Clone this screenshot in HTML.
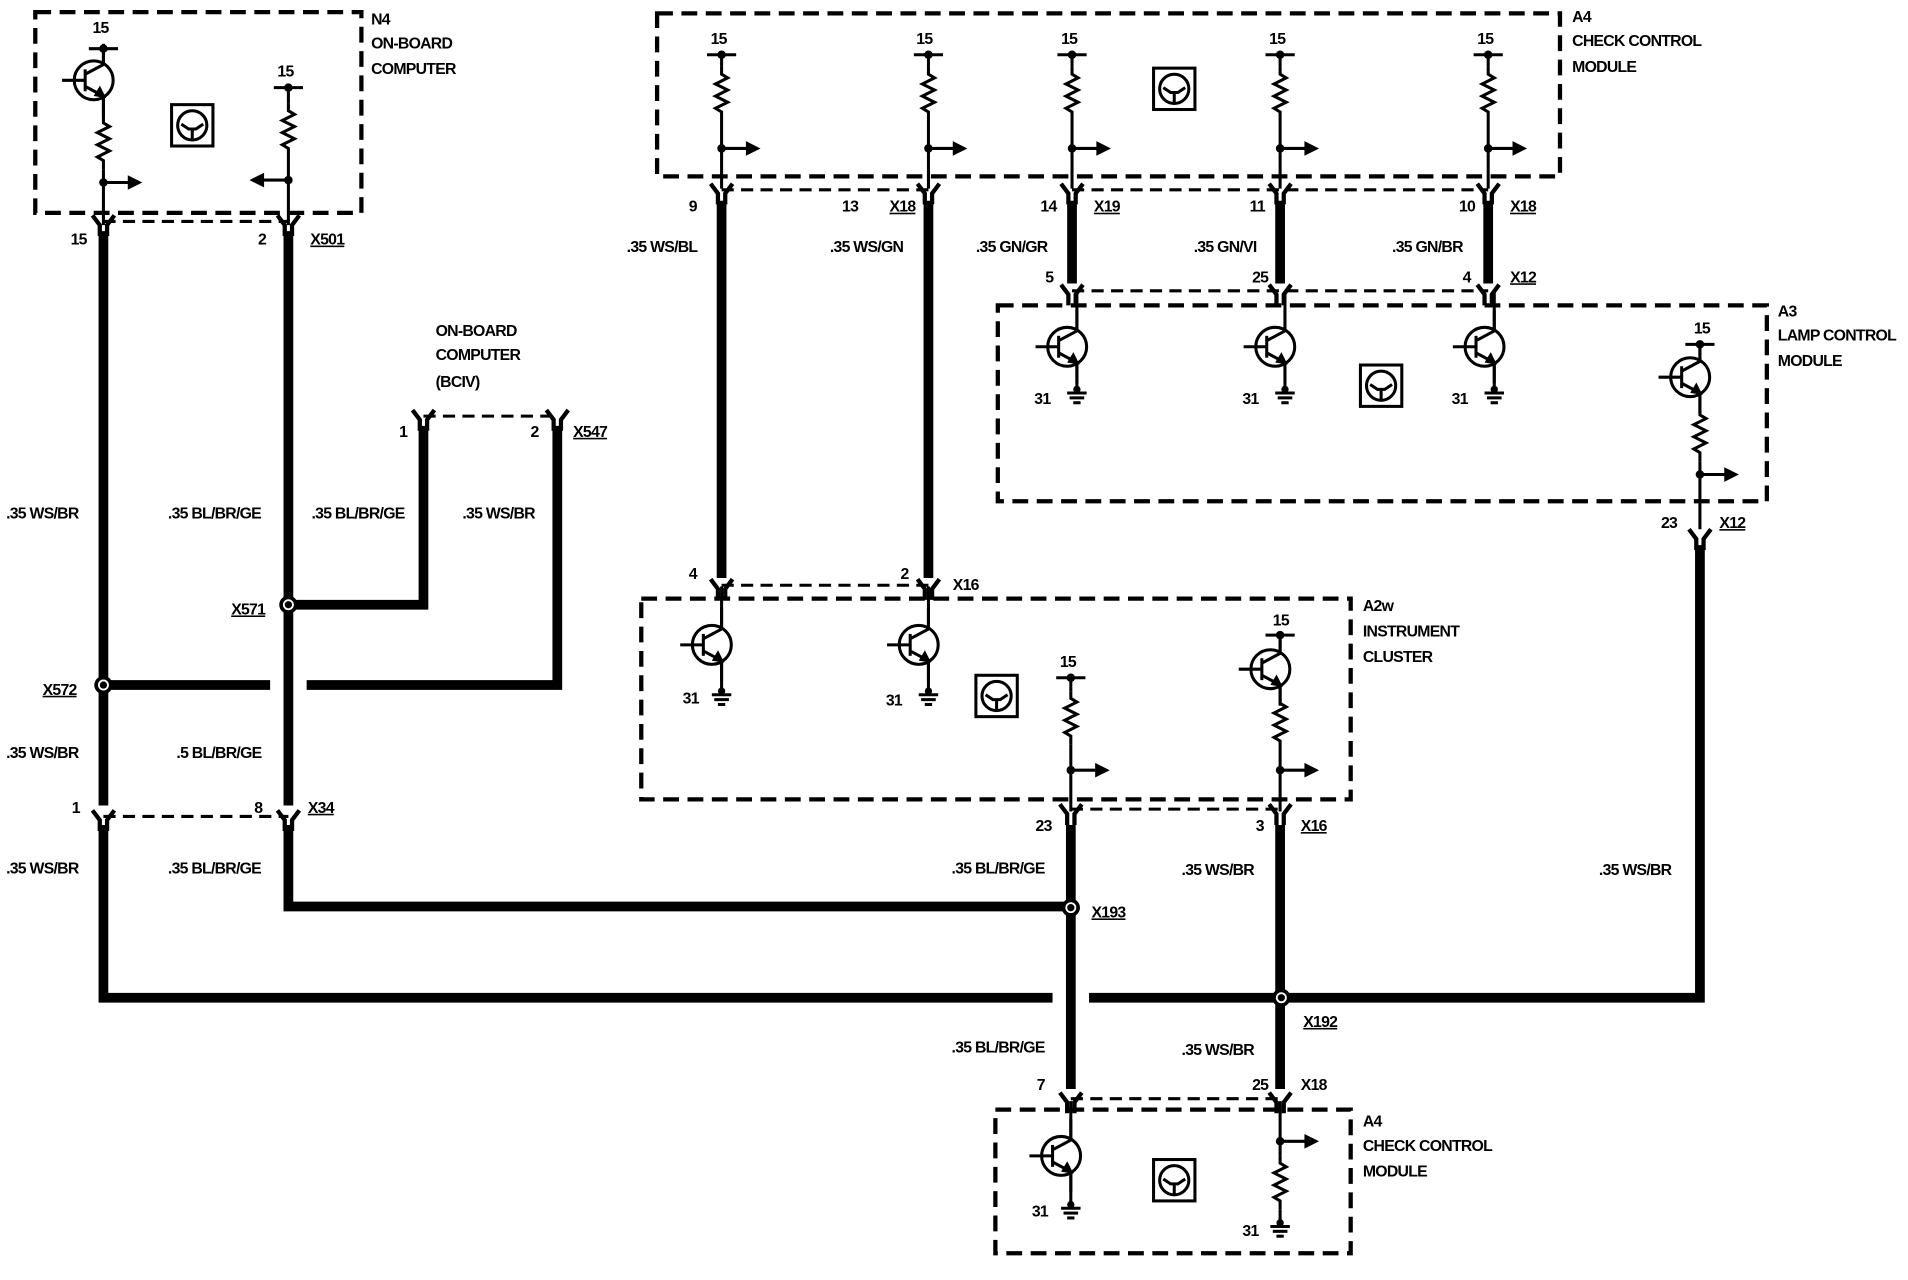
<!DOCTYPE html>
<html><head><meta charset="utf-8"><style>
html,body{margin:0;padding:0;background:#fff;}
svg{display:block;}
text{font-family:"Liberation Sans",Arial,sans-serif;font-weight:bold;font-size:13px;fill:#000;letter-spacing:-0.6px;}
</style></head><body>
<svg width="1908" height="1280" viewBox="0 0 1568 1052" preserveAspectRatio="none" xmlns="http://www.w3.org/2000/svg">
<defs>
<g id="tr" fill="none" stroke="#000" stroke-width="2.5">
<circle cx="-8" cy="0" r="16"/>
<line x1="-34" y1="0" x2="-15" y2="0"/>
<line x1="-15" y1="-9" x2="-15" y2="9"/>
<line x1="-15" y1="-5" x2="0" y2="-13"/>
<line x1="-15" y1="5" x2="0" y2="13"/>
<line x1="0" y1="-13" x2="0" y2="-30"/>
<line x1="0" y1="13" x2="0" y2="30"/>
<path d="M-6,12 L0,13 L-3,7 Z" fill="#000"/>
</g>
<polyline id="res" fill="none" stroke="#000" stroke-width="2.5" points="0,0 0,6 5,9 -5,14 5,19 -5,24 5,29 -5,34 0,37 0,44"/>
<g id="arr"><circle r="3.5" fill="#000"/><line x1="0" y1="0" x2="22" y2="0" stroke="#000" stroke-width="2.5"/><path d="M20,-6 L32,0 L20,6 Z" fill="#000"/></g>
<g id="arl"><circle r="3.5" fill="#000"/><line x1="0" y1="0" x2="-22" y2="0" stroke="#000" stroke-width="2.5"/><path d="M-20,-6 L-32,0 L-20,6 Z" fill="#000"/></g>
<g id="top"><circle r="3.5" fill="#000"/><line x1="-12" y1="0" x2="12" y2="0" stroke="#000" stroke-width="2.5"/></g>
<g id="gnd" stroke="#000" stroke-width="2.5"><circle cx="0" cy="-2" r="3" fill="#000" stroke="none"/><line x1="-8" y1="1" x2="8" y2="1"/><line x1="-6" y1="5" x2="6" y2="5"/><line x1="-3" y1="9" x2="3" y2="9"/></g>
<g id="ico" fill="none" stroke="#000" stroke-width="2.5"><rect x="-17" y="-17" width="34" height="34"/><circle r="12"/><path d="M-9,-1 L-3,3 L3,3 L9,-1 M0,3 L0,11"/></g>
<path id="fork" d="M-9,-9 L-3,-1 L-3,8 M9,-9 L3,-1 L3,8" fill="none" stroke="#000" stroke-width="3.5"/>
</defs>

<g fill="none" stroke="#000" stroke-width="3.5" stroke-dasharray="13,7">
<rect x="29" y="10" width="268" height="165"/>
<rect x="540" y="11" width="742" height="134"/>
<rect x="820" y="251" width="632" height="161"/>
<rect x="527" y="492" width="583" height="165"/>
<rect x="818" y="912" width="292" height="118"/>
</g>
<g fill="none" stroke="#000" stroke-width="2.5" stroke-dasharray="10,6">
<line x1="85" y1="182" x2="237" y2="182"/>
<line x1="348" y1="342" x2="458" y2="342"/>
<line x1="593" y1="156" x2="763" y2="156"/>
<line x1="881" y1="156" x2="1223" y2="156"/>
<line x1="881" y1="239" x2="1223" y2="239"/>
<line x1="593" y1="481" x2="763" y2="481"/>
<line x1="880" y1="665" x2="1052" y2="665"/>
<line x1="85" y1="671" x2="237" y2="671"/>
<line x1="880" y1="903" x2="1052" y2="903"/>
</g>

<g stroke="#000" stroke-width="2.5" fill="none">
<line x1="85" y1="40" x2="85" y2="185"/>
<line x1="237" y1="72" x2="237" y2="185"/>
<line x1="593" y1="45" x2="593" y2="155"/>
<line x1="763" y1="45" x2="763" y2="155"/>
<line x1="881" y1="45" x2="881" y2="155"/>
<line x1="1052" y1="45" x2="1052" y2="155"/>
<line x1="1223" y1="45" x2="1223" y2="155"/>
<line x1="885" y1="240" x2="885" y2="320"/>
<line x1="1056" y1="240" x2="1056" y2="320"/>
<line x1="1228" y1="240" x2="1228" y2="320"/>
<line x1="1397" y1="283" x2="1397" y2="435"/>
<line x1="593" y1="482" x2="593" y2="568"/>
<line x1="763" y1="482" x2="763" y2="568"/>
<line x1="880" y1="557" x2="880" y2="667"/>
<line x1="1052" y1="522" x2="1052" y2="667"/>
<line x1="880" y1="905" x2="880" y2="990"/>
<line x1="1052" y1="905" x2="1052" y2="1005"/>
</g>
<g fill="#fff"><rect x="78" y="95" width="14" height="44"/><rect x="230" y="85" width="14" height="44"/>
<rect x="586" y="55" width="14" height="44"/><rect x="756" y="55" width="14" height="44"/><rect x="874" y="55" width="14" height="44"/><rect x="1045" y="55" width="14" height="44"/><rect x="1216" y="55" width="14" height="44"/>
<rect x="1390" y="335" width="14" height="44"/><rect x="873" y="568" width="14" height="44"/><rect x="1045" y="572" width="14" height="44"/><rect x="1045" y="950" width="14" height="44"/></g>
<use href="#res" x="85" y="95"/><use href="#res" x="237" y="85"/>
<use href="#res" x="593" y="55"/><use href="#res" x="763" y="55"/><use href="#res" x="881" y="55"/><use href="#res" x="1052" y="55"/><use href="#res" x="1223" y="55"/>
<use href="#res" x="1397" y="335"/><use href="#res" x="880" y="568"/><use href="#res" x="1052" y="572"/><use href="#res" x="1052" y="950"/>

<g fill="#fff"><circle cx="77" cy="66" r="16"/><circle cx="877" cy="285" r="16"/><circle cx="1048" cy="285" r="16"/><circle cx="1220" cy="285" r="16"/><circle cx="1389" cy="310" r="16"/><circle cx="585" cy="530" r="16"/><circle cx="755" cy="530" r="16"/><circle cx="1044" cy="550" r="16"/><circle cx="872" cy="950" r="16"/></g>
<use href="#tr" x="85" y="66"/><use href="#tr" x="885" y="285"/><use href="#tr" x="1056" y="285"/><use href="#tr" x="1228" y="285"/><use href="#tr" x="1397" y="310"/>
<use href="#tr" x="593" y="530"/><use href="#tr" x="763" y="530"/><use href="#tr" x="1052" y="550"/><use href="#tr" x="880" y="950"/>

<use href="#top" x="85" y="40"/><use href="#top" x="237" y="72"/>
<use href="#top" x="593" y="45"/><use href="#top" x="763" y="45"/><use href="#top" x="881" y="45"/><use href="#top" x="1052" y="45"/><use href="#top" x="1223" y="45"/>
<use href="#top" x="1397" y="283"/><use href="#top" x="880" y="557"/><use href="#top" x="1052" y="522"/>
<use href="#arr" x="85" y="150"/><use href="#arl" x="237" y="148"/>
<use href="#arr" x="593" y="122"/><use href="#arr" x="763" y="122"/><use href="#arr" x="881" y="122"/><use href="#arr" x="1052" y="122"/><use href="#arr" x="1223" y="122"/>
<use href="#arr" x="1397" y="390"/><use href="#arr" x="880" y="633"/><use href="#arr" x="1052" y="633"/><use href="#arr" x="1052" y="938"/>
<use href="#gnd" x="885" y="322"/><use href="#gnd" x="1056" y="322"/><use href="#gnd" x="1228" y="322"/><use href="#gnd" x="593" y="570"/><use href="#gnd" x="763" y="570"/><use href="#gnd" x="880" y="992"/><use href="#gnd" x="1052" y="1007"/>
<use href="#ico" x="158" y="103"/><use href="#ico" x="965" y="73"/><use href="#ico" x="1135" y="317"/><use href="#ico" x="819" y="572"/><use href="#ico" x="965" y="970"/>

<g fill="none" stroke="#000" stroke-width="8">
<path d="M85,190 V662"/>
<path d="M237,190 V662"/>
<path d="M237,497 H348 V350"/>
<path d="M85,563 H222"/>
<path d="M252,563 H458 V350"/>
<path d="M237,678 V745 H880"/>
<path d="M85,678 V820 H865"/>
<path d="M895,820 H1397 V448"/>
<path d="M593,165 V475"/>
<path d="M763,165 V475"/>
<path d="M881,165 V233"/>
<path d="M1052,165 V233"/>
<path d="M1223,165 V233"/>
<path d="M880,678 V895"/>
<path d="M1052,678 V895"/>
</g>
<use href="#fork" x="85" y="186"/><use href="#fork" x="237" y="186"/>
<use href="#fork" x="348" y="346"/><use href="#fork" x="458" y="346"/>
<use href="#fork" x="593" y="160"/><use href="#fork" x="763" y="160"/><use href="#fork" x="881" y="160"/><use href="#fork" x="1052" y="160"/><use href="#fork" x="1223" y="160"/>
<use href="#fork" x="881" y="243"/><use href="#fork" x="1052" y="243"/><use href="#fork" x="1223" y="243"/>
<use href="#fork" x="1397" y="444"/>
<use href="#fork" x="593" y="485"/><use href="#fork" x="763" y="485"/>
<use href="#fork" x="85" y="675"/><use href="#fork" x="237" y="675"/>
<use href="#fork" x="880" y="670"/><use href="#fork" x="1052" y="670"/>
<use href="#fork" x="880" y="907"/><use href="#fork" x="1052" y="907"/>
<g fill="#fff" stroke="#000" stroke-width="3"><circle cx="237" cy="497" r="6"/><circle cx="85" cy="563" r="6"/><circle cx="880" cy="746" r="6"/><circle cx="1053" cy="820" r="6"/></g>
<g fill="#000"><circle cx="237" cy="497" r="3"/><circle cx="85" cy="563" r="3"/><circle cx="880" cy="746" r="3"/><circle cx="1053" cy="820" r="3"/></g>

<text x="305" y="20">N4</text><text x="305" y="40">ON-BOARD</text><text x="305" y="61">COMPUTER</text>
<text x="76" y="27">15</text><text x="228" y="63">15</text>
<text x="58" y="201">15</text><text x="212" y="201">2</text><text x="255" y="201" text-decoration="underline">X501</text>
<text x="358" y="276">ON-BOARD</text><text x="358" y="296">COMPUTER</text><text x="358" y="318">(BCIV)</text>
<text x="328" y="359">1</text><text x="436" y="359">2</text><text x="471" y="359" text-decoration="underline">X547</text>
<text x="5" y="426">.35 WS/BR</text><text x="138" y="426">.35 BL/BR/GE</text><text x="256" y="426">.35 BL/BR/GE</text><text x="380" y="426">.35 WS/BR</text>
<text x="190" y="505" text-decoration="underline">X571</text><text x="35" y="571" text-decoration="underline">X572</text>
<text x="5" y="623">.35 WS/BR</text><text x="145" y="623">.5 BL/BR/GE</text>
<text x="59" y="668">1</text><text x="209" y="668">8</text><text x="253" y="668" text-decoration="underline">X34</text>
<text x="5" y="718">.35 WS/BR</text><text x="138" y="718">.35 BL/BR/GE</text>
<text x="897" y="754" text-decoration="underline">X193</text><text x="1071" y="844" text-decoration="underline">X192</text>
<text x="1292" y="18">A4</text><text x="1292" y="38">CHECK CONTROL</text><text x="1292" y="59">MODULE</text>
<text x="584" y="36">15</text><text x="753" y="36">15</text><text x="872" y="36">15</text><text x="1043" y="36">15</text><text x="1214" y="36">15</text>
<text x="566" y="174">9</text><text x="692" y="174">13</text><text x="731" y="174" text-decoration="underline">X18</text><text x="855" y="174">14</text><text x="899" y="174" text-decoration="underline">X19</text><text x="1027" y="174">11</text><text x="1199" y="174">10</text><text x="1241" y="174" text-decoration="underline">X18</text>
<text x="515" y="207">.35 WS/BL</text><text x="682" y="207">.35 WS/GN</text><text x="802" y="207">.35 GN/GR</text><text x="981" y="207">.35 GN/VI</text><text x="1144" y="207">.35 GN/BR</text>
<text x="859" y="232">5</text><text x="1029" y="232">25</text><text x="1202" y="232">4</text><text x="1241" y="232" text-decoration="underline">X12</text>
<text x="1461" y="260">A3</text><text x="1461" y="280">LAMP CONTROL</text><text x="1461" y="301">MODULE</text>
<text x="1392" y="274">15</text>
<text x="850" y="332">31</text><text x="1021" y="332">31</text><text x="1193" y="332">31</text>
<text x="1365" y="434">23</text><text x="1413" y="434" text-decoration="underline">X12</text>
<text x="566" y="476">4</text><text x="740" y="476">2</text><text x="783" y="485">X16</text>
<text x="1120" y="502">A2w</text><text x="1120" y="523">INSTRUMENT</text><text x="1120" y="544">CLUSTER</text>
<text x="1046" y="514">15</text><text x="871" y="548">15</text>
<text x="561" y="578">31</text><text x="728" y="580">31</text>
<text x="851" y="683">23</text><text x="1032" y="683">3</text><text x="1069" y="683" text-decoration="underline">X16</text>
<text x="782" y="718">.35 BL/BR/GE</text><text x="971" y="719">.35 WS/BR</text><text x="1314" y="719">.35 WS/BR</text>
<text x="782" y="865">.35 BL/BR/GE</text><text x="971" y="867">.35 WS/BR</text>
<text x="852" y="896">7</text><text x="1029" y="896">25</text><text x="1069" y="896">X18</text>
<text x="1120" y="926">A4</text><text x="1120" y="946">CHECK CONTROL</text><text x="1120" y="967">MODULE</text>
<text x="848" y="1000">31</text><text x="1021" y="1016">31</text>
</svg>
</body></html>
